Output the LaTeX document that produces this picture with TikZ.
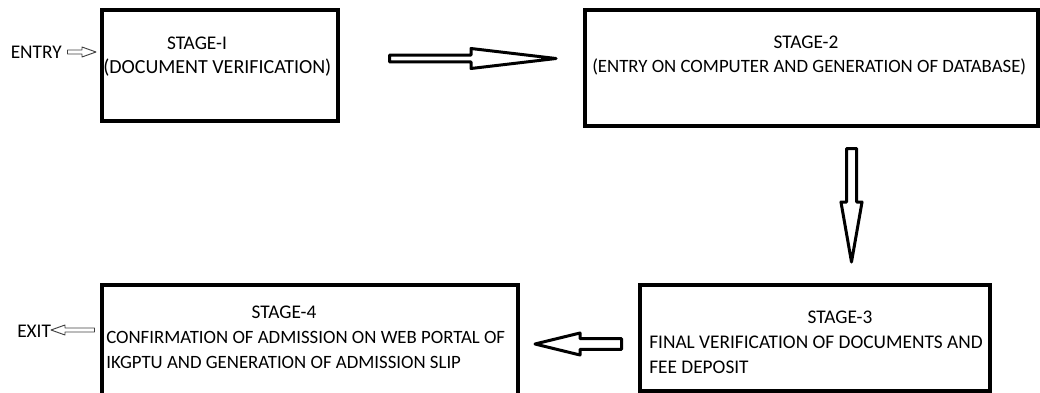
\documentclass[tikz,border=0pt]{standalone}
\usepackage{fontspec}
\setmainfont{Carlito}
\usetikzlibrary{calc}
% hollow block arrow: style, tail, tip, shaft half width, head half width, head length
\newcommand\hollowarr[6]{%
  \coordinate (hb) at ($(#3)!#6!(#2)$);
  \draw[#1] ($(#2)!#4!90:(#3)$) -- ($(hb)!#4!90:(#3)$) -- ($(hb)!#5!90:(#3)$) -- (#3)
    -- ($(hb)!#5!-90:(#3)$) -- ($(hb)!#4!-90:(#3)$) -- ($(#2)!#4!-90:(#3)$) -- cycle;
}

\begin{document}
\begin{tikzpicture}[
  x=0.75pt, y=-0.75pt,
  font=\fontsize{14.5}{18}\selectfont,
  stagebox/.style={draw, line width=3pt, inner sep=0pt},
  txt/.style={inner sep=0pt, anchor=base west},
  head/.style={inner sep=0pt, anchor=base},
  fat/.style={draw, line width=2.25pt, line join=round},
  thin/.style={draw=black!75, line width=0.7pt, line join=round}
]
\clip (0,0) rectangle (1040,393);
\foreach \n/\x/\y/\w/\h in {
  s1/220/65.5/236/111,
  s2/811.5/68/453/116,
  s3/815/338/350/106,
  s4/310/341.5/416/113}
{
  \node[stagebox, minimum width=\w*0.75pt, minimum height=\h*0.75pt] (\n) at (\x,\y) {};
}
\node[head] (s1h) at (197,49.5)  {STAGE-I};
\node[txt, font=\fontsize{15}{18}\selectfont] (s1a) at (103,73.5) {(DOCUMENT VERIFICATION)};
\node[head] (s2h) at (806,48.5)  {STAGE-2};
\node[txt, font=\fontsize{14.1}{18}\selectfont] (s2a) at (592,72.5) {(ENTRY ON COMPUTER AND GENERATION OF DATABASE)};
\node[head] (s3h) at (840,323.5) {STAGE-3};
\node[txt]  (s3a) at (649,348.5) {FINAL VERIFICATION OF DOCUMENTS AND};
\node[txt]  (s3b) at (649,373.5) {FEE DEPOSIT};
\node[head] (s4h) at (284,318.5) {STAGE-4};
\node[txt, font=\fontsize{14.1}{18}\selectfont] (s4a) at (106,343.5) {CONFIRMATION OF ADMISSION ON WEB PORTAL OF};
\node[txt, font=\fontsize{14.1}{18}\selectfont] (s4b) at (106,368.5) {IKGPTU AND GENERATION OF ADMISSION SLIP};
\node[txt, anchor=base east] (entry) at (62,58.5) {ENTRY};
\node[txt] (exit) at (17,337.5) {EXIT};

\coordinate (in0) at (67.5,52);   \coordinate (in1) at (96,52);
\coordinate (a0) at (389.5,58.5); \coordinate (a1) at (556,58.5);
\coordinate (b0) at (851.5,148.5); \coordinate (b1) at (851.5,262);
\coordinate (c0) at (621.5,344);  \coordinate (c1) at (535,344);
\coordinate (out0) at (94.5,330); \coordinate (out1) at (51,330);

\hollowarr{thin}{in0}{in1}{1.5pt}{3.75pt}{10.5pt}
\hollowarr{fat}{a0}{a1}{2.6pt}{7.5pt}{63.75pt}
\hollowarr{fat}{b0}{b1}{3.75pt}{7.9pt}{45pt}
\hollowarr{fat}{c0}{c1}{4.1pt}{8.25pt}{33.75pt}
\hollowarr{thin}{out0}{out1}{1.5pt}{3.75pt}{10.5pt}
\end{tikzpicture}
\end{document}
